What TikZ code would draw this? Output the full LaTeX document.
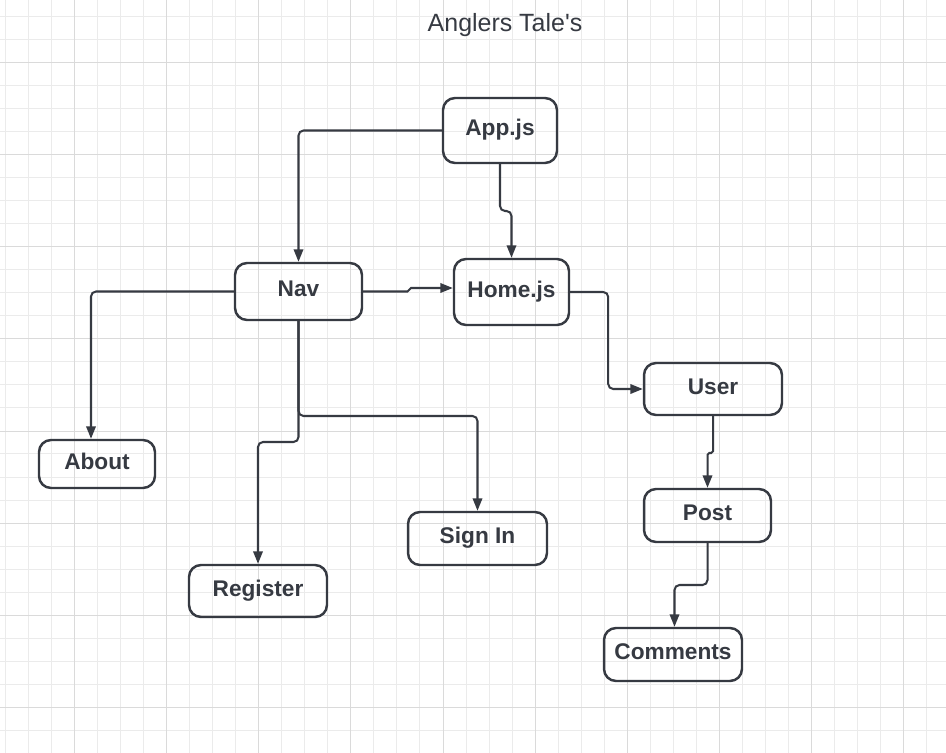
\documentclass[tikz,border=0pt]{standalone}
\usepackage{fontspec}
\setmainfont{Liberation Sans}
\usepackage{tikz}
\usetikzlibrary{arrows.meta}

\definecolor{ink}{HTML}{363A42}
\definecolor{gridminor}{HTML}{EBEBEB}
\definecolor{gridmajor}{HTML}{DADADA}

\begin{document}
\begin{tikzpicture}[x=0.02cm, y=-0.02cm,
			      box/.style={rectangle, draw=ink, line width=1.4pt, rounded corners=0.24cm,
				      text=ink, font=\fontsize{12.9pt}{15pt}\selectfont\bfseries, inner sep=0pt,
				      text height=9.5pt, text depth=3.6pt},
			      link/.style={draw=ink, line width=1.15pt, rounded corners=0.1cm,
				      -{Triangle[length=0.25cm, width=0.19cm]}},
			      jog/.style={rounded corners=0.035cm}]
		      \useasboundingbox (0,0) rectangle (946,753);
		      \fill[white] (0,0) rectangle (946,753);
		      \foreach \i in {0,...,40}{
			      \pgfmathtruncatemacro{\m}{mod(\i+1,4)}
			      \ifnum\m=0\else
				      \draw[gridminor, line width=0.55pt] (5.2+23.04*\i,0) -- (5.2+23.04*\i,753);
			      \fi}
		      \foreach \i in {0,...,31}{
			      \pgfmathtruncatemacro{\m}{mod(\i+2,4)}
			      \ifnum\m=0\else
				      \draw[gridminor, line width=0.55pt] (0,16.2+23.04*\i) -- (946,16.2+23.04*\i);
			      \fi}
		      \foreach \i in {0,...,9}
			      \draw[gridmajor, line width=0.6pt] (74.45+92.16*\i,0) -- (74.45+92.16*\i,753);
		      \foreach \i in {0,...,7}
			      \draw[gridmajor, line width=0.6pt] (0,62.45+92.16*\i) -- (946,62.45+92.16*\i);

		      \node[text=ink, font=\fontsize{14.2pt}{17pt}\selectfont] (title) at (505,25.5) {Anglers Tale\textquotesingle s};

		      \node[box, minimum width=2.28cm, minimum height=1.30cm] (app) at (500,130.5) {App.js};
		      \node[box, minimum width=2.54cm, minimum height=1.14cm] (nav) at (298.5,291.5) {Nav};
		      \node[box, minimum width=2.30cm, minimum height=1.32cm] (home) at (511.5,292) {Home.js};
		      \node[box, minimum width=2.76cm, minimum height=1.04cm] (user) at (713,389) {User};
		      \node[box, minimum width=2.32cm, minimum height=0.96cm] (about) at (97,464) {About};
		      \node[box, minimum width=2.76cm, minimum height=1.04cm] (register) at (258,591) {Register};
		      \node[box, minimum width=2.78cm, minimum height=1.06cm] (signin) at (477.5,538.5) {Sign In};
		      \node[box, minimum width=2.54cm, minimum height=1.06cm] (post) at (707.5,515.5) {Post};
		      \node[box, minimum width=2.76cm, minimum height=1.06cm] (comments) at (673,654.5) {Comments};

		      \draw[link] (app.west) -| (nav.north);
		      \draw[link] (app.south) -- (app.south |- 0,211) -| (home.north);
		      \draw[link, jog] (nav.east) -- ++(46,0) |- ([yshift=0.08cm]home.west);
		      \draw[link] (nav.west) -| ([xshift=-0.12cm]about.north);
		      \draw[link] (nav.south) -- (nav.south |- 0,416) -| (signin.north);
		      \draw[link] (nav.south) -- (nav.south |- 0,442) -| (register.north);
		      \draw[link] (home.east) -- ++(38,0) |- (user.west);
		      \draw[link, jog] (user.south) -- (user.south |- 0,453) -| (post.north);
		      \draw[link] (post.south) -- (post.south |- 0,585) -| ([xshift=0.03cm]comments.north);
	      \end{tikzpicture}
\end{document}
